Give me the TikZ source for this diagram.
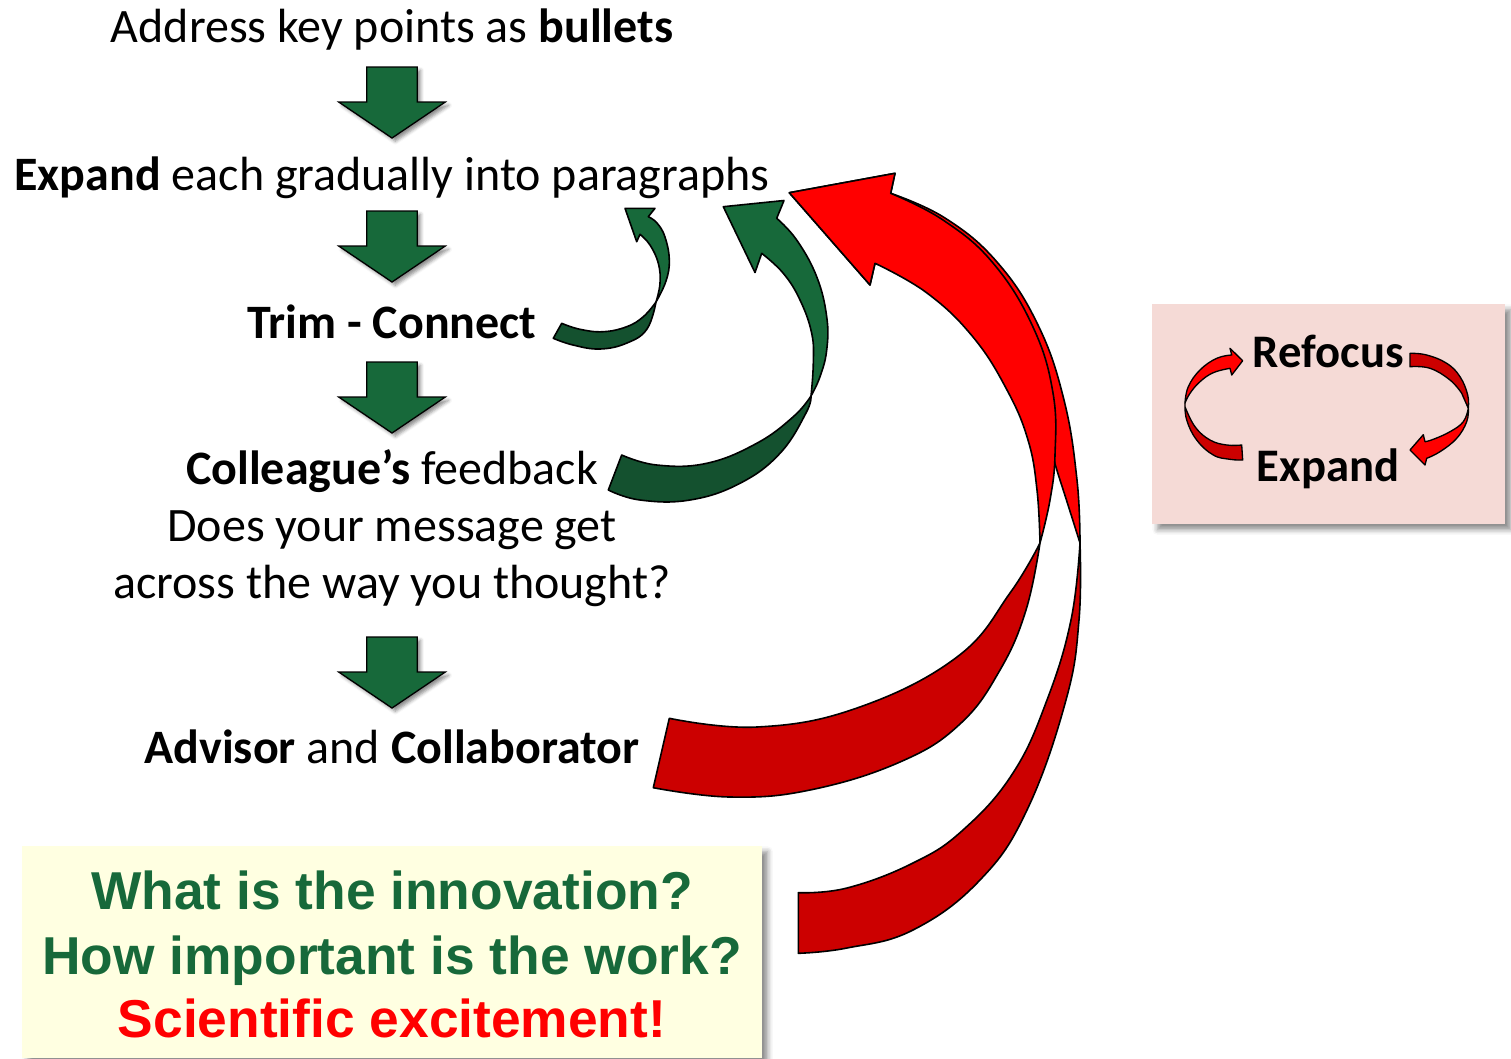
\documentclass[tikz,border=0pt]{standalone}
\usepackage{fontspec}
\setmainfont{Carlito}
\newfontfamily\headfont{Liberation Sans}
\usetikzlibrary{shadows.blur}

\definecolor{arrowgreen}{HTML}{17693A}
\definecolor{gdark}{HTML}{14512F}
\definecolor{glight}{HTML}{17693A}
\definecolor{rlight}{HTML}{FF0000}
\definecolor{rdark}{HTML}{CC0000}
\definecolor{boxyellow}{HTML}{FFFFE1}
\definecolor{boxpink}{HTML}{F5DAD6}
\definecolor{textgreen}{HTML}{17693A}

\begin{document}
\begin{tikzpicture}[x=0.75pt,y=-0.75pt,
  txt/.style={inner sep=0pt, font=\fontsize{36}{43}\selectfont},
  boxtxt/.style={inner sep=0pt, font=\headfont\bfseries\fontsize{40}{48}\selectfont},
  looptxt/.style={inner sep=0pt, font=\bfseries\fontsize{35}{42}\selectfont},
  band/.style={draw=black, line width=1.2pt, line join=round},
  sm/.style={smooth, tension=0.7},
  softshadow/.style={blur shadow={shadow xshift=4pt, shadow yshift=-4pt,
      shadow blur radius=4pt, shadow opacity=45}},
  pics/downarrow/.style={code={
    \filldraw[fill=arrowgreen, draw=black, line width=1pt, line join=miter,
      blur shadow={shadow xshift=2.5pt, shadow yshift=-2.5pt,
        shadow blur radius=2.5pt, shadow opacity=45}]
      (-25.3,0) -- (25.3,0) -- (25.3,35) -- (53.3,35) -- (0,71)
      -- (-53.3,35) -- (-25.3,35) -- cycle;
  }}]

\useasboundingbox (0,0) rectangle (1511,1058);

% ---------- steps of the writing process ----------
\node[txt, anchor=base] (bullets) at (392,42) {Address key points as \textbf{bullets}};
\pic (a1) at (392,67) {downarrow};
\node[txt, anchor=base] (expand) at (392,190) {\textbf{Expand} each gradually into paragraphs};
\pic (a2) at (392,211) {downarrow};
\node[txt, anchor=base] (trim) at (392,338) {\textbf{Trim - Connect}};
\pic (a3) at (392,362) {downarrow};
\node[txt, anchor=base] (colleague) at (392,484) {\textbf{Colleague’s} feedback};
\node[txt, anchor=base] (message) at (392,541) {Does your message get};
\node[txt, anchor=base] (thought) at (392,598) {across the way you thought?};
\pic (a4) at (392,637) {downarrow};
\node[txt, anchor=base] (advisor) at (392,763) {\textbf{Advisor} and \textbf{Collaborator}};

% ---------- questions box ----------
\node[fill=boxyellow, softshadow, inner sep=0pt, minimum width=740*0.75pt,
  minimum height=212*0.75pt, anchor=north west] (qbox) at (22,846) {};
\node[boxtxt, anchor=base, text=textgreen] (q1) at (392,909) {What is the innovation?};
\node[boxtxt, anchor=base, text=textgreen] (q2) at (392,974) {How important is the work?};
\node[boxtxt, anchor=base, text=rlight] (q3) at (392,1037) {Scientific excitement!};

% ---------- refocus / expand box ----------
\node[fill=boxpink, softshadow, inner sep=0pt, minimum width=353*0.75pt,
  minimum height=220*0.75pt, anchor=north west] (lbox) at (1152,304) {};
\node[looptxt, anchor=base] (refocus) at (1328.5,367) {Refocus};
\node[looptxt, anchor=base] (expand2) at (1328,481) {Expand};

% ---------- small green loop: Trim - Connect back to paragraphs ----------
\filldraw[band, fill=gdark]
  plot[sm] coordinates {(561.7,323.3) (580,329.3) (603.3,331.7) (626.7,326.7) (643.3,316.7) (656,302)}
  -- plot[sm] coordinates {(656,302) (647,329) (627,343) (600,349) (573,345) (553.3,338.3)}
  -- cycle;
\filldraw[band, fill=glight]
  plot[sm] coordinates {(656,302) (666,281) (669.3,260) (665,237) (657,223) (648.3,216.7)}
  -- (655,208.3) -- (625,208.3) -- (636.7,241.7)
  -- plot[sm] coordinates {(640,234.3) (650,245) (658.3,263.3) (660,283.3) (656,302)}
  -- cycle;

% ---------- large green loop: feedback back to paragraphs ----------
\filldraw[band, fill=gdark]
  plot[sm] coordinates {(811,396) (806,413) (780,453.3) (740,483.3) (690,500) (640,500) (608.3,490)}
  -- plot[sm] coordinates {(621.7,455) (656.7,465) (706.7,463.3) (756.7,443.3) (793.3,416.7) (811,396)}
  -- cycle;
\filldraw[band, fill=glight]
  plot[sm] coordinates {(811,396) (820,376.7) (826.7,350) (826.7,316.7) (816.7,276.7) (796.7,240) (776.7,218.3)}
  -- (784,200.5) -- (723.3,206.7) -- (755,272.5)
  -- plot[sm] coordinates {(761.7,253.3) (783.3,273.3) (800,300) (811.7,333.3) (813.3,363.3) (811,396)}
  -- cycle;

% ---------- red loop from the questions box (behind) ----------
\filldraw[band, fill=rdark]
  plot[sm] coordinates {(1080,543) (1079,620) (1066,700) (1027,810) (980,880) (913,930) (847,948) (798.3,953.3)}
  -- plot[sm] coordinates {(798.3,892.7) (847,888) (913,863) (963,830) (1013,773) (1047,700) (1071,620) (1080,543)}
  -- cycle;
\filldraw[band, fill=rlight]
  plot[sm] coordinates {(1080,543) (1077,480) (1064,400) (1038,325) (997,262) (945,218) (890.7,193.3)}
  -- (895,173.3) -- (789.3,192.7) -- (870,285)
  -- plot[sm] coordinates {(875,263.3) (920,280) (970,315) (1010,365) (1040,420) (1060,480) (1080,543)}
  -- cycle;

% ---------- red loop from advisor and collaborator ----------
\filldraw[band, fill=rdark]
  plot[sm] coordinates {(1040,543) (1026,610) (1000,670) (960,724) (900,762) (810,790) (730,797) (653.3,787.7)}
  -- plot[sm] coordinates {(669.3,718.3) (757,727) (857,708) (957,657) (1010,593) (1040,543)}
  -- cycle;
\filldraw[band, fill=rlight]
  plot[sm] coordinates {(1040,543) (1050,500) (1055,455) (1053,393) (1033,327) (993,263) (943,220) (890.7,193.3)}
  -- (895,173.3) -- (789.3,192.7) -- (870,285)
  -- plot[sm] coordinates {(875,263.3) (927,293) (973,337) (1007,390) (1028,440) (1037,490) (1040,543)}
  -- cycle;

% ---------- refocus / expand cycle ----------
\filldraw[band, line width=1pt, fill=rdark]
  plot[sm] coordinates {(1185,403) (1186.7,420) (1196.7,440) (1213.3,455) (1230,459.3) (1242.7,460)}
  -- plot[sm] coordinates {(1241.7,445) (1226.7,445) (1210,440) (1195,426.7) (1185,406.7)}
  -- cycle;
\filldraw[band, line width=1pt, fill=rlight]
  plot[sm] coordinates {(1185,403) (1188.3,386.7) (1200,370) (1216.7,358.3) (1231.7,355)}
  -- (1230,348.3) -- (1242.7,360.7) -- (1231.7,375)
  -- plot[sm] coordinates {(1230,368.3) (1213.3,372.7) (1200,381.7) (1190,393.3) (1185,403)}
  -- cycle;
\filldraw[band, line width=1pt, fill=rdark]
  plot[sm] coordinates {(1410,353.3) (1426.7,355) (1446.7,363.3) (1460,376.7) (1467.7,395) (1468.3,408.3)}
  -- plot[sm] coordinates {(1461.7,393.3) (1450,380) (1430,368.3) (1410,366.7)}
  -- cycle;
\filldraw[band, line width=1pt, fill=rlight]
  plot[sm] coordinates {(1468.3,408.3) (1466.7,421.7) (1456.7,438.3) (1440,451.7) (1426.7,458.3)}
  -- (1425,465) -- (1410,450) -- (1423.3,434.7)
  -- plot[sm] coordinates {(1425,441.7) (1433.3,439.3) (1450,431.7) (1463.3,421.7) (1468.3,408.3)}
  -- cycle;

\end{tikzpicture}
\end{document}
